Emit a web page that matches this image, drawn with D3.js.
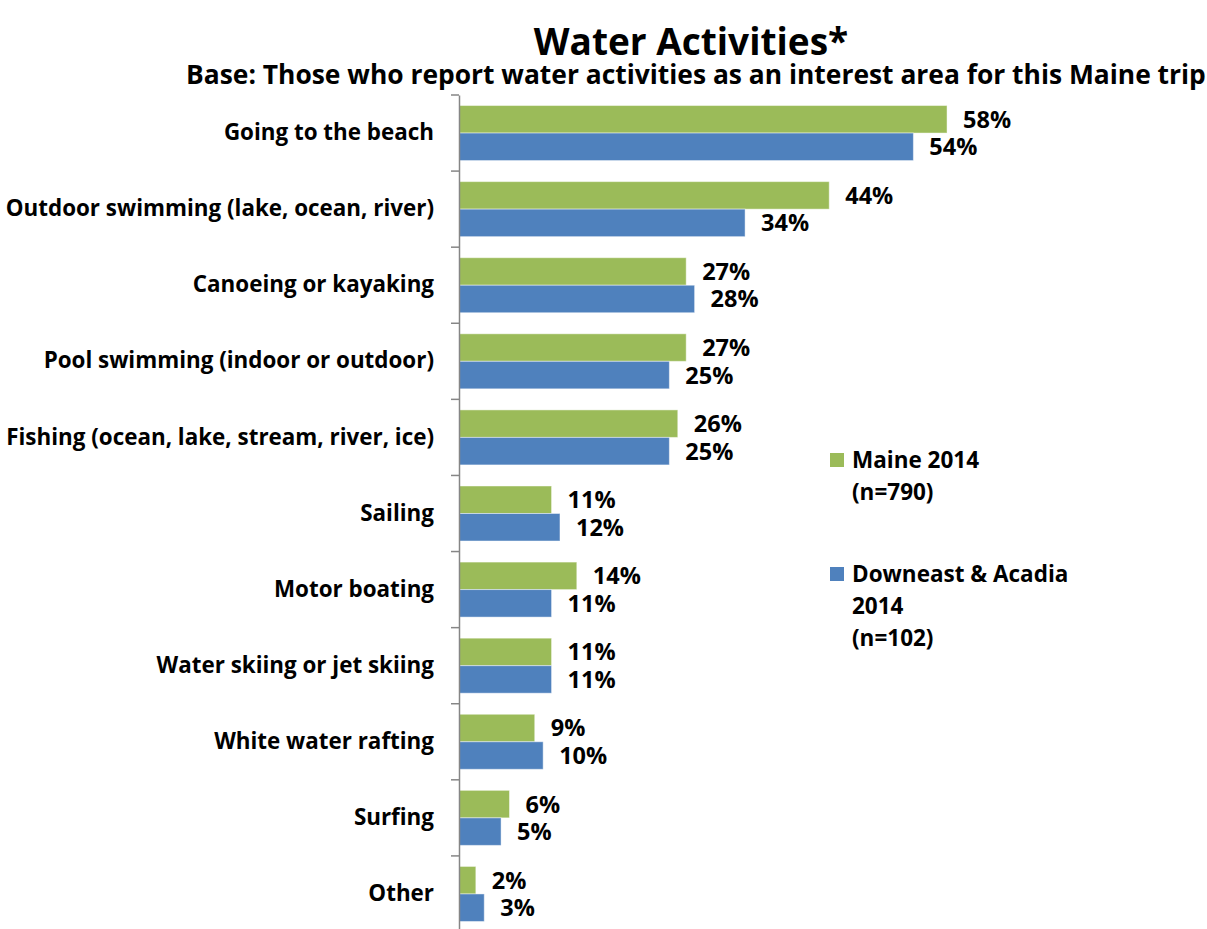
<!DOCTYPE html>
<html>
<head>
<meta charset="utf-8">
<script src="https://cdn.jsdelivr.net/npm/d3@7/dist/d3.min.js"></script>
<style>
  html, body { margin: 0; padding: 0; background: #ffffff; }
  svg { display: block; }
  text { font-family: "Open Sans", Lato, sans-serif; font-weight: 700; fill: #000;
         font-variant-ligatures: none; }
</style>
</head>
<body>
<div id="chart"></div>
<script>
// Water activities of interest, share of respondents (%)
const categories = [
  "Going to the beach",
  "Outdoor swimming (lake, ocean, river)",
  "Canoeing or kayaking",
  "Pool swimming (indoor or outdoor)",
  "Fishing (ocean, lake, stream, river, ice)",
  "Sailing",
  "Motor boating",
  "Water skiing or jet skiing",
  "White water rafting",
  "Surfing",
  "Other"
];
const maine2014 = [58, 44, 27, 27, 26, 11, 14, 11, 9, 6, 2];
const downeast2014 = [54, 34, 28, 25, 25, 12, 11, 11, 10, 5, 3];
const seriesNames = ["Maine 2014", "Downeast & Acadia 2014"];
const legendLines = [["Maine 2014", "(n=790)"], ["Downeast & Acadia", "2014", "(n=102)"]];
const seriesColors = ["#9BBB59", "#4F81BD"];

const W = 1207, H = 929;
const svg = d3.select("#chart").append("svg").attr("width", W).attr("height", H);

const x = d3.scaleLinear().domain([0, 70]).range([459, 1048]);
const y = d3.scaleBand().domain(categories).range([95, 932])
  .paddingInner(0.277).paddingOuter(0.1385);
const ySeries = d3.scaleBand().domain(d3.range(2)).range([0, y.bandwidth()]);

// Titles
svg.append("text").attr("x", 691).attr("y", 55).attr("text-anchor", "middle")
  .style("font-size", "37px").text("Water Activities*");
svg.append("text").attr("x", 186).attr("y", 84)
  .style("font-size", "26.4px")
  .text("Base: Those who report water activities as an interest area for this Maine trip");

// Bars and value labels
const rows = categories.map((c, i) => ({ c, vals: [maine2014[i], downeast2014[i]] }));
const groups = svg.append("g").selectAll("g").data(rows).join("g")
  .attr("transform", d => `translate(0,${y(d.c)})`);

groups.selectAll("rect").data(d => d.vals).join("rect")
  .attr("x", x(0))
  .attr("y", (v, j) => ySeries(j))
  .attr("width", v => x(v) - x(0))
  .attr("height", ySeries.bandwidth())
  .attr("fill", (v, j) => seriesColors[j])
  .attr("stroke", "rgba(255,255,255,0.45)")
  .attr("stroke-width", 1);

groups.selectAll("text").data(d => d.vals).join("text")
  .attr("x", v => x(v) + 16)
  .attr("y", (v, j) => ySeries(j) + ySeries.bandwidth() / 2)
  .attr("dy", "0.36em")
  .style("font-size", "23.5px")
  .text(v => v + "%");

// Category axis on the left
const axis = d3.axisLeft(y).tickSize(0).tickPadding(25);
const gAxis = svg.append("g").attr("transform", `translate(${x(0)},0)`).call(axis);
gAxis.select(".domain").attr("stroke", "#868686").attr("stroke-width", 1.5);
gAxis.selectAll(".tick text")
  .style("font-size", "22.4px")
  .style("font-family", "'Open Sans', Lato, sans-serif")
  .style("font-weight", 700)
  .attr("fill", "#000");

// Tick marks at category boundaries
const bounds = categories.map(c => y(c) - y.step() * y.paddingInner() / 2);
svg.append("g").selectAll("line").data(bounds).join("line")
  .attr("x1", x(0) - 8).attr("x2", x(0))
  .attr("y1", d => d).attr("y2", d => d)
  .attr("stroke", "#868686").attr("stroke-width", 1.5);

// Legend
const legendTop = [453, 567];
const legend = svg.append("g").selectAll("g").data(seriesNames).join("g")
  .attr("transform", (d, i) => `translate(830,${legendTop[i]})`);
legend.append("rect").attr("width", 14).attr("height", 14)
  .attr("fill", (d, i) => seriesColors[i]);
legend.each(function (d, i) {
  d3.select(this).selectAll("text").data(legendLines[i]).join("text")
    .attr("x", 22).attr("y", (t, k) => 15 + k * 32)
    .style("font-size", "22.5px")
    .text(t => t);
});
</script>
</body>
</html>
